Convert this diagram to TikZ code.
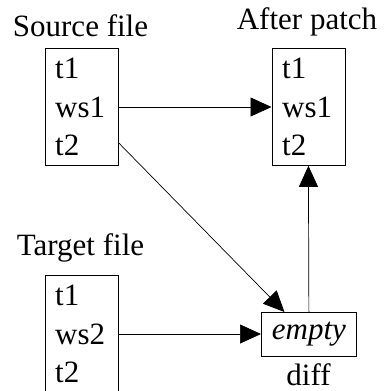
\documentclass[tikz,border=0pt]{standalone}
\usepackage{fontspec}
\setmainfont{Liberation Serif}
\usetikzlibrary{arrows.meta,calc}
\tikzset{
  filebox/.style={draw, line width=0.8pt, minimum width=73pt, minimum height=117pt, anchor=north west, inner sep=0pt},
  row/.style={anchor=base west, inner sep=0pt},
  title/.style={anchor=base, inner sep=0pt},
  arr/.style={line width=0.7pt, -{Triangle[length=21pt, width=19pt]}},
}
\begin{document}
\begin{tikzpicture}[x=1pt, y=-1pt, font=\fontsize{31}{35}\selectfont]
\useasboundingbox (0,0) rectangle (385,391);
% source
\node[title] (srct) at (80.5,36) {Source file};
\node[filebox] (src) at (45,48) {};
\node[row] (src1) at (55,78) {t1};
\node[row] (src2) at (55,117) {ws1};
\node[row] (src3) at (55,155) {t2};
% after patch
\node[title] (aftt) at (307,29) {After patch};
\node[filebox] (aft) at (271.5,48) {};
\node[row] (aft1) at (282,78) {t1};
\node[row] (aft2) at (282,117) {ws1};
\node[row] (aft3) at (282,155) {t2};
% target
\node[title] (tgtt) at (80.5,255) {Target file};
\node[filebox] (tgt) at (45,275) {};
\node[row] (tgt1) at (55,305) {t1};
\node[row] (tgt2) at (55,344) {ws2};
\node[row] (tgt3) at (55,382) {t2};
% diff
\node[draw, line width=0.8pt, minimum width=95pt, minimum height=44pt, anchor=north west, inner sep=0pt] (dif) at (261,312) {\itshape empty};
\node[title] (dift) at (308.5,385) {diff};
% connectors
\draw[arr] (src.east |- 0,107) -- (aft.west |- 0,107);
\draw[arr] (src.east |- 0,143) -- ($(dif.north west)!0.245!(dif.north east)$);
\draw[arr] (tgt.east |- 0,334) -- (dif.west |- 0,334);
\draw[arr] (dif.north) -- (aft.south);
\end{tikzpicture}
\end{document}
